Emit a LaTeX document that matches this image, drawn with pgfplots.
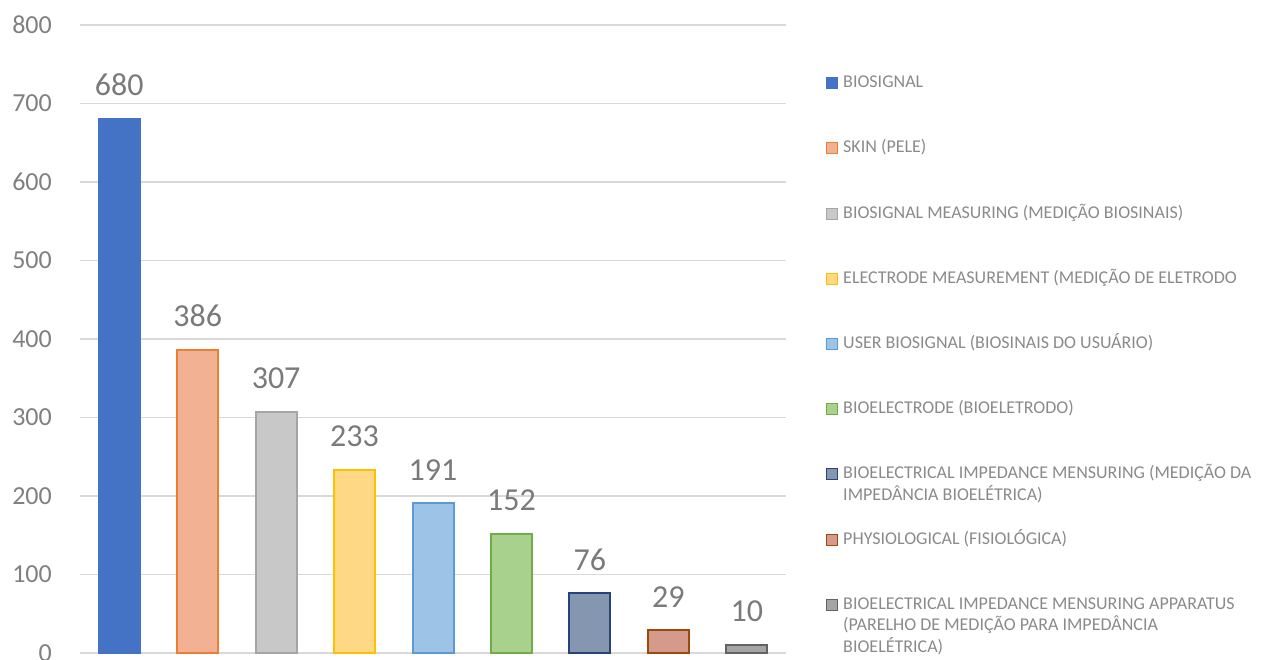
\documentclass[border=0pt]{standalone}
\usepackage{fontspec}
\setmainfont{Carlito}
\usepackage{pgfplots}
\pgfplotsset{compat=1.18}

\definecolor{gridgray}{HTML}{D9D9D9}
\definecolor{tickgray}{HTML}{808080}
\definecolor{labgray}{HTML}{7A7A7A}
\definecolor{leggray}{HTML}{8A8A8A}
% border / fill pairs for the nine bars
\definecolor{bA}{HTML}{4472C4}\definecolor{fA}{HTML}{4472C4}
\definecolor{bB}{HTML}{ED7D31}\definecolor{fB}{HTML}{F3B193}
\definecolor{bC}{HTML}{A5A5A5}\definecolor{fC}{HTML}{C8C8C8}
\definecolor{bD}{HTML}{FFC000}\definecolor{fD}{HTML}{FFD885}
\definecolor{bE}{HTML}{5B9BD5}\definecolor{fE}{HTML}{9DC3E6}
\definecolor{bF}{HTML}{70AD47}\definecolor{fF}{HTML}{A9D18E}
\definecolor{bG}{HTML}{264478}\definecolor{fG}{HTML}{8496B0}
\definecolor{bH}{HTML}{9E480E}\definecolor{fH}{HTML}{D49A8B}
\definecolor{bI}{HTML}{636363}\definecolor{fI}{HTML}{A5A5A5}

\begin{document}
\begin{tikzpicture}
\path[use as bounding box] (0pt,0pt) rectangle (1261pt,659pt);
\begin{axis}[
  at={(80pt,6pt)}, anchor=south west,
  scale only axis, width=706pt, height=628pt,
  xmin=-0.5, xmax=8.5, ymin=0, ymax=800,
  ytick={0,100,...,800}, xtick=\empty,
  ymajorgrids, grid style={color=gridgray, line width=1.6pt},
  axis line style={draw=none},
  major tick length=0pt,
  yticklabel style={font=\fontsize{26}{26}\selectfont, text=tickgray, inner sep=0pt, xshift=-28pt},
  /pgf/number format/assume math mode=true,
  ybar, bar width=41pt, bar shift=0pt,
  every axis plot post/.append style={line width=2pt,
    legend image code/.code={\draw[##1,line width=1pt] (0pt,-5pt) rectangle (11pt,6pt);}},
  nodes near coords,
  nodes near coords style={font=\fontsize{32}{32}\selectfont, text=labgray, anchor=south, inner sep=0pt, yshift=22pt},
  legend cell align=left,
  legend style={at={(1.0567,0.9196)}, anchor=north west, draw=none, fill=none,
    inner sep=0pt, row sep=49.2pt, column sep=5pt, text=leggray,
    font=\fontsize{18}{21.5}\selectfont,
    nodes={inner sep=0pt, text height=12pt, text depth=4pt}},
  clip=false,
]
\addplot[fill=fA, draw=bA] coordinates {(0,680)};
\addlegendentry{BIOSIGNAL}
\addplot[fill=fB, draw=bB] coordinates {(1,386)};
\addlegendentry{SKIN (PELE)}
\addplot[fill=fC, draw=bC] coordinates {(2,307)};
\addlegendentry{BIOSIGNAL MEASURING (MEDIÇÃO BIOSINAIS)}
\addplot[fill=fD, draw=bD] coordinates {(3,233)};
\addlegendentry{ELECTRODE MEASUREMENT (MEDIÇÃO DE ELETRODO}
\addplot[fill=fE, draw=bE] coordinates {(4,191)};
\addlegendentry{USER BIOSIGNAL (BIOSINAIS DO USUÁRIO)}
\addplot[fill=fF, draw=bF] coordinates {(5,152)};
\addlegendentry{BIOELECTRODE (BIOELETRODO)}
\addplot[fill=fG, draw=bG] coordinates {(6,76)};
\addlegendentry{\parbox[t]{412pt}{BIOELECTRICAL IMPEDANCE MENSURING (MEDIÇÃO DA\\IMPEDÂNCIA BIOELÉTRICA)}}
\addplot[fill=fH, draw=bH] coordinates {(7,29)};
\addlegendentry{PHYSIOLOGICAL (FISIOLÓGICA)}
\addplot[fill=fI, draw=bI] coordinates {(8,10)};
\addlegendentry{\parbox[t]{412pt}{BIOELECTRICAL IMPEDANCE MENSURING APPARATUS\\(PARELHO DE MEDIÇÃO PARA IMPEDÂNCIA\\BIOELÉTRICA)}}
\end{axis}
\end{tikzpicture}
\end{document}
